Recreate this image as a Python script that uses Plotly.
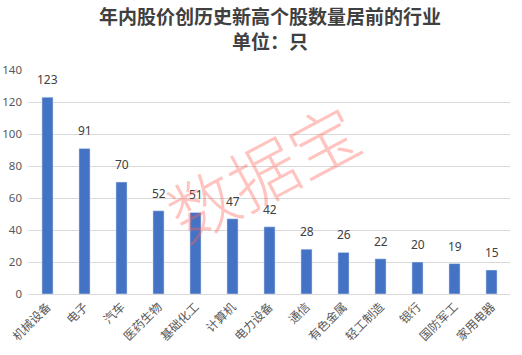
import plotly.graph_objects as go

categories = ["机械设备", "电子", "汽车", "医药生物", "基础化工", "计算机", "电力设备",
              "通信", "有色金属", "轻工制造", "银行", "国防军工", "家用电器"]
values = [123, 91, 70, 52, 51, 47, 42, 28, 26, 22, 20, 19, 15]
y_ticks = [0, 20, 40, 60, 80, 100, 120, 140]

fig = go.Figure()
fig.add_trace(go.Bar(
    x=categories, y=values,
    marker_color="#4472C4",
    cliponaxis=False,
))

for c, v in zip(categories, values):
    fig.add_annotation(x=c, y=v, text=str(v), showarrow=False, yanchor="bottom", yshift=7,
                       font=dict(family="Noto Sans, sans-serif", size=12, color="#404040"))

fig.update_layout(
    width=522, height=355,
    margin=dict(l=29, r=12, t=70, b=61),
    paper_bgcolor="white", plot_bgcolor="white",
    showlegend=False,
    bargap=0.7,
    font=dict(family="Noto Sans CJK SC, sans-serif"),
    xaxis=dict(
        tickangle=-45, showgrid=False, showline=True, linecolor="#D9D9D9",
        tickfont=dict(size=12, color="#595959"), ticks="", automargin=False,
    ),
    yaxis=dict(
        range=[0, 140], tickvals=y_ticks, showgrid=True, gridcolor="#D9D9D9",
        zeroline=False, tickfont=dict(size=11.5, color="#595959", family="Noto Sans, sans-serif"),
        ticks="", ticklabelstandoff=6, automargin=False,
    ),
)

title_font = dict(family="Noto Sans CJK SC, sans-serif", size=19, color="#404040")
fig.add_annotation(text="<b>年内股价创历史新高个股数量居前的行业</b>", xref="paper", yref="paper",
                   x=0.5, y=1, yshift=55, xanchor="center", yanchor="middle",
                   showarrow=False, font=title_font)
fig.add_annotation(text="<b>单位：只</b>", xref="paper", yref="paper",
                   x=0.5, y=1, yshift=30, xanchor="center", yanchor="middle",
                   showarrow=False, font=title_font)

fig.add_annotation(
    text="数据宝", xref="paper", yref="paper", x=0.484, y=0.55,
    showarrow=False, textangle=-28,
    font=dict(family="Noto Sans CJK SC, sans-serif", size=68, color="rgba(255,100,90,0.38)", weight=300),
)

fig.write_html("out.html")
